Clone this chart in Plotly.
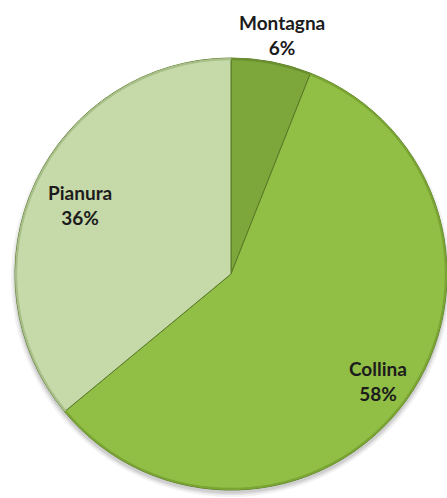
import math
import plotly.graph_objects as go

# Ripartizione del territorio per zona altimetrica
zone = ["Montagna", "Collina", "Pianura"]
quote = [6, 58, 36]
colori = ["#7ea73b", "#91be44", "#c6d9a9"]
colori_bordo = ["#6a9030", "#7aa434", "#a9bf8a"]

W, H = 447, 498
# pie box in pixels (centre and radius)
cx, cy, r = 231, 274, 216
# anchor point and radial factors for the slice labels
lx, ly = 236, 278
fattori = [1.146, 0.81, 0.796]


def dominio(raggio):
    return dict(x=[(cx - raggio) / W, (cx + raggio) / W],
                y=[(H - cy - raggio) / H, (H - cy + raggio) / H])


fig = go.Figure()

# soft drop shadow under the pie
for k, a in [(5, 0.05), (3, 0.07), (1.5, 0.08)]:
    fig.add_shape(
        type="circle", xref="paper", yref="paper", layer="below",
        x0=(cx - r - k + 1) / W, x1=(cx + r + k - 1) / W,
        y0=(H - cy - r - k - 2) / H, y1=(H - cy + r + k - 6) / H,
        fillcolor=f"rgba(0,0,0,{a})", line=dict(width=0),
    )

fig.add_trace(go.Pie(
    labels=zone,
    values=quote,
    sort=False,
    direction="clockwise",
    rotation=0,
    marker=dict(colors=colori, line=dict(color="#587a26", width=1)),
    textinfo="none",
    hoverinfo="label+percent",
    showlegend=False,
    domain=dominio(r),
))

# thin darker rim giving the bevelled edge
fig.add_trace(go.Pie(
    labels=zone,
    values=quote,
    sort=False,
    direction="clockwise",
    rotation=0,
    hole=0.99,
    marker=dict(colors=colori_bordo, line=dict(width=0)),
    textinfo="none",
    hoverinfo="skip",
    showlegend=False,
    domain=dominio(r),
))

# labels placed along each slice's mid-angle
tot = sum(quote)
acc = 0
for nome, v, f in zip(zone, quote, fattori):
    mid = (acc + v / 2) / tot * 2 * math.pi
    acc += v
    px = lx + f * r * math.sin(mid)
    py = ly - f * r * math.cos(mid)
    fig.add_annotation(
        x=px / W, y=1 - py / H, xref="paper", yref="paper",
        xanchor="center", yanchor="middle",
        text=f"<b>{nome}<br>{v}%</b>",
        showarrow=False,
        font=dict(family="Lato", size=19, color="#1c1c1c"),
        align="center",
    )

fig.update_layout(
    width=W, height=H,
    margin=dict(l=0, r=0, t=0, b=0),
    paper_bgcolor="white",
    plot_bgcolor="white",
)

fig.write_html("out.html")
